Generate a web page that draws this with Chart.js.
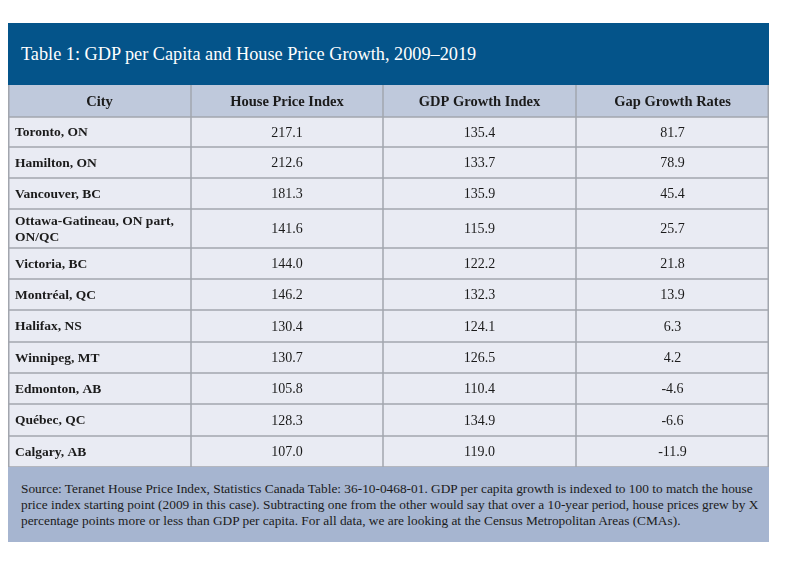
<!DOCTYPE html>
<html>
<head>
<meta charset="utf-8">
<script src="https://cdn.jsdelivr.net/npm/chart.js@4.4.1/dist/chart.umd.min.js"></script>
<style>
  html, body { margin: 0; padding: 0; background: #ffffff; }
  body { width: 800px; height: 565px; position: relative; overflow: hidden; }
  #wrap { position: absolute; left: 8px; top: 23px; width: 761px; }
  #title {
    height: 62px; line-height: 62px; background: #04548a; color: #ffffff;
    font-family: "Liberation Serif", "DejaVu Serif", serif; font-size: 18.25px;
    padding-left: 13px; box-sizing: border-box;
  }
  #tableBox { position: relative; width: 761px; height: 382px; }
  #source {
    height: 75px; background: #a6b5d0; color: #1b1b1b; box-sizing: border-box;
    font-family: "Liberation Serif", "DejaVu Serif", serif; font-size: 13.35px;
    line-height: 16px; padding: 14px 8px 0 13px; white-space: nowrap;
  }
</style>
</head>
<body>
<div id="wrap">
  <div id="title">Table 1: GDP per Capita and House Price Growth, 2009–2019</div>
  <div id="tableBox"><canvas id="tableChart"></canvas></div>
  <div id="source">Source: Teranet House Price Index, Statistics Canada Table: 36-10-0468-01. GDP per capita growth is indexed to 100 to match the house<br>price index starting point (2009 in this case). Subtracting one from the other would say that over a 10-year period, house prices grew by X<br>percentage points more or less than GDP per capita. For all data, we are looking at the Census Metropolitan Areas (CMAs).</div>
</div>

<script>
// data
const headers = ['City', 'House Price Index', 'GDP Growth Index', 'Gap Growth Rates'];
const cities = ['Toronto, ON', 'Hamilton, ON', 'Vancouver, BC', 'Ottawa-Gatineau, ON part, ON/QC',
  'Victoria, BC', 'Montréal, QC', 'Halifax, NS', 'Winnipeg, MT', 'Edmonton, AB', 'Québec, QC', 'Calgary, AB'];
const houseIndex = [217.1, 212.6, 181.3, 141.6, 144.0, 146.2, 130.4, 130.7, 105.8, 128.3, 107.0];
const gdpIndex = [135.4, 133.7, 135.9, 115.9, 122.2, 132.3, 124.1, 126.5, 110.4, 134.9, 119.0];
const gapRates = [81.7, 78.9, 45.4, 25.7, 21.8, 13.9, 6.3, 4.2, -4.6, -6.6, -11.9];

// layout (scale units)
const colWidths = [183, 192, 193, 193];
const headerHeight = 32;
const rowHeights = [30, 31, 31, 39, 31, 31, 32, 31, 31, 32, 31];

const FONT = '"Liberation Serif", "DejaVu Serif", serif';
const TEXT = '#1b1b1b';

function edges(sizes, start){
  const out = [start];
  sizes.forEach(s => out.push(out[out.length - 1] + s));
  return out;
}
const colEdges = edges(colWidths, 0);
const rowEdges = edges(rowHeights, headerHeight);
const colMid = colWidths.map((w, i) => colEdges[i] + w / 2);
const rowMid = rowHeights.map((h, i) => rowEdges[i] + h / 2);
const totalW = colEdges[colEdges.length - 1];
const totalH = rowEdges[rowEdges.length - 1];

function cellData(values, col){
  return values.map((v, i) => ({ x: colMid[col], y: rowMid[i], v }));
}

function wrapText(ctx, text, maxW){
  const words = text.split(' ');
  const lines = [];
  let line = '';
  words.forEach(w => {
    const test = line ? line + ' ' + w : w;
    if (ctx.measureText(test).width > maxW && line){
      lines.push(line);
      line = w;
    } else {
      line = test;
    }
  });
  if (line) lines.push(line);
  return lines;
}

const tablePlugin = {
  id: 'tablePlugin',
  beforeDatasetsDraw(chart){
    const { ctx, scales: { x, y } } = chart;
    const X = v => x.getPixelForValue(v);
    const Y = v => y.getPixelForValue(v);
    ctx.save();
    // header and body fills
    ctx.fillStyle = '#bfc9dc';
    ctx.fillRect(X(0), Y(0), X(totalW) - X(0), Y(headerHeight) - Y(0));
    ctx.fillStyle = '#e9ebf3';
    ctx.fillRect(X(0), Y(headerHeight), X(totalW) - X(0), Y(totalH) - Y(headerHeight));
    // grid lines
    ctx.strokeStyle = '#a2a6ae';
    ctx.lineWidth = 1.5;
    ctx.beginPath();
    rowEdges.forEach(r => {
      ctx.moveTo(X(0), Y(r));
      ctx.lineTo(X(totalW), Y(r));
    });
    colEdges.forEach((c, i) => {
      const px = i === 0 ? X(c) + 0.75 : (i === colEdges.length - 1 ? X(c) - 0.75 : X(c));
      ctx.moveTo(px, Y(0));
      ctx.lineTo(px, Y(totalH));
    });
    ctx.stroke();
    // header labels
    ctx.fillStyle = TEXT;
    ctx.font = 'bold 14.5px ' + FONT;
    ctx.textAlign = 'center';
    ctx.textBaseline = 'middle';
    headers.forEach((h, i) => ctx.fillText(h, X(colMid[i]), Y(headerHeight / 2) + 1));
    ctx.restore();
  },
  afterDatasetsDraw(chart){
    const { ctx } = chart;
    ctx.save();
    ctx.fillStyle = TEXT;
    ctx.textBaseline = 'middle';
    chart.data.datasets.forEach((ds, di) => {
      const meta = chart.getDatasetMeta(di);
      meta.data.forEach((pt, i) => {
        const v = ds.data[i].v;
        if (ds.cityColumn){
          ctx.font = 'bold 13.5px ' + FONT;
          ctx.textAlign = 'left';
          const left = chart.scales.x.getPixelForValue(colEdges[0]) + 7;
          const lines = wrapText(ctx, v, colWidths[0] - 14);
          const lh = 16;
          lines.forEach((l, k) => ctx.fillText(l, left, pt.y + (k - (lines.length - 1) / 2) * lh + 1));
        } else {
          ctx.font = '14px ' + FONT;
          ctx.textAlign = 'center';
          ctx.fillText(v.toFixed(1), pt.x, pt.y + 1);
        }
      });
    });
    ctx.restore();
  }
};

new Chart(document.getElementById('tableChart'), {
  type: 'scatter',
  data: {
    datasets: [
      { label: headers[0], data: cellData(cities, 0), cityColumn: true, pointRadius: 0, pointHoverRadius: 0 },
      { label: headers[1], data: cellData(houseIndex, 1), pointRadius: 0, pointHoverRadius: 0 },
      { label: headers[2], data: cellData(gdpIndex, 2), pointRadius: 0, pointHoverRadius: 0 },
      { label: headers[3], data: cellData(gapRates, 3), pointRadius: 0, pointHoverRadius: 0 }
    ]
  },
  options: {
    responsive: true,
    maintainAspectRatio: false,
    animation: false,
    layout: { padding: 0 },
    events: [],
    plugins: { legend: { display: false }, tooltip: { enabled: false } },
    scales: {
      x: { type: 'linear', display: false, min: 0, max: totalW },
      y: { type: 'linear', display: false, min: 0, max: totalH, reverse: true }
    }
  },
  plugins: [tablePlugin]
});
</script>
</body>
</html>
